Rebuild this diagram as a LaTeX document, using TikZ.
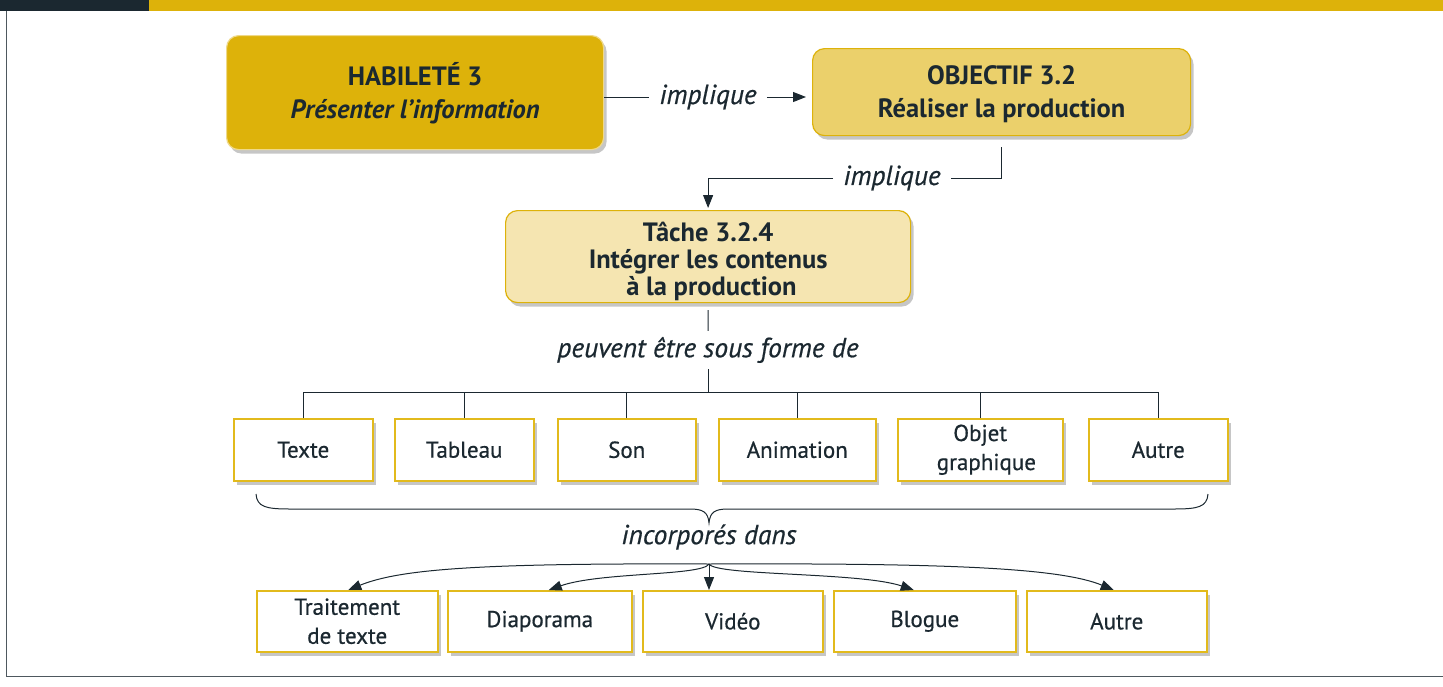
\documentclass[tikz,border=0pt]{standalone}
\usepackage{fontspec}
\setmainfont{PT Sans}
\newfontfamily\medfont{PT Sans}[FakeBold=0.6]
\usetikzlibrary{shadows,arrows.meta}

\definecolor{ink}{HTML}{1B2830}
\definecolor{golddark}{HTML}{DDB20A}
\definecolor{goldmid}{HTML}{EBD06B}
\definecolor{goldpale}{HTML}{F5E5B1}
\definecolor{goldline}{HTML}{E2BA1C}
\definecolor{framegray}{HTML}{4E585E}

\tikzset{
  boxshadow/.style={drop shadow={shadow xshift=3pt,shadow yshift=-4pt,fill=black!50,opacity=0.45}},
  headbox/.style={anchor=north west,inner sep=0,rounded corners=12pt,line width=1.2pt,
    align=center,text=ink,font=\bfseries\fontsize{26.5}{33}\selectfont,boxshadow},
  itembox/.style={anchor=north west,inner sep=0,draw=goldline,line width=1.5pt,fill=white,
    align=center,text=ink,font=\medfont\fontsize{23}{29}\selectfont,boxshadow},
  linklabel/.style={text=ink,inner xsep=10pt,inner ysep=6pt,font=\medfont\itshape\fontsize{27.5}{30}\selectfont},
  link/.style={draw=ink,line width=1pt},
  arr/.style={link,-{Triangle[length=13pt,width=10pt]}},
}

\begin{document}
\begin{tikzpicture}[x=1pt,y=-1pt]
  \useasboundingbox (0,0) rectangle (1443,686);
  % frame and top bar
  \fill[ink] (0,0) rectangle (149,11);
  \fill[golddark] (149,0) rectangle (1443,11);
  \draw[framegray,line width=1.6pt] (6.5,11) -- (6.5,676.5) -- (1443,676.5);

  % header boxes
  \node[headbox,fill=golddark,draw=goldmid!80!white,minimum width=377pt,minimum height=114pt] (hab) at (226,35)
    {\rule{0pt}{24pt}HABILETÉ 3\\\textit{Présenter l’information}};
  \node[headbox,fill=goldmid,draw=golddark,minimum width=378pt,minimum height=87pt] (obj) at (812,48)
    {\rule{0pt}{24pt}OBJECTIF 3.2\\Réaliser la production};
  \node[headbox,fill=goldpale,draw=golddark,minimum width=405pt,minimum height=92pt,
    font=\bfseries\fontsize{26.5}{27}\selectfont] (tache) at (505,210)
    {\rule{0pt}{30pt}Tâche 3.2.4\\Intégrer les contenus\\\ à la production};

  % labels
  \node[linklabel] (imp1) at (708,97) {implique};
  \node[linklabel] (imp2) at (892,178) {implique};
  \node[linklabel] (peuv) at (708,350) {peuvent être sous forme de};
  \node[linklabel,inner ysep=4pt] (incorp) at (709,537) {incorporés dans};
  \coordinate (bus) at (708,392);
  \coordinate (hub) at (709,564);

  % first row
  \node[itembox,minimum width=139pt,minimum height=62pt] (texte) at (233,418) {Texte};
  \node[itembox,minimum width=139pt,minimum height=62pt] (tabl) at (394,418) {Tableau};
  \node[itembox,minimum width=138pt,minimum height=62pt] (son) at (557,418) {Son};
  \node[itembox,minimum width=157pt,minimum height=62pt] (anim) at (718,418) {Animation};
  \node[itembox,minimum width=165pt,minimum height=62pt] (objg) at (897,418) {Objet\\\ \ graphique};
  \node[itembox,minimum width=139pt,minimum height=62pt] (autreA) at (1088,418) {Autre};

  % second row
  \node[itembox,minimum width=181pt,minimum height=61pt] (trait) at (256,590) {Traitement\\de texte};
  \node[itembox,minimum width=184pt,minimum height=61pt] (diapo) at (447,590) {Diaporama};
  \node[itembox,minimum width=180pt,minimum height=61pt] (video) at (642,590) {Vidéo};
  \node[itembox,minimum width=182pt,minimum height=61pt] (blog) at (833,590) {Blogue};
  \node[itembox,minimum width=180pt,minimum height=61pt] (autreB) at (1026,590) {Autre};

  % connectors
  \draw[link] (hab.east |- imp1) -- (imp1.west);
  \draw[arr,shorten >=6pt] (imp1.east) -- (obj.west |- imp1);
  \draw[link] ([yshift=-11pt]obj.south) |- (imp2.east);
  \draw[arr,shorten >=2pt] (imp2.west) -| (tache.north);
  \draw[link] ([yshift=-7pt]tache.south) -- (peuv.north);
  \draw[link] (peuv.south) -- (bus);
  \draw[link] (texte.north |- bus) -- (autreA.north |- bus);
  \foreach \b in {texte,tabl,son,anim,objg,autreA}
    \draw[link] (\b.north) -- (\b.north |- bus);

  % brace
  \draw[link] (256,494) .. controls (257,507) and (266,509) .. (290,509) -- (690,509)
    .. controls (703,509) and (708,512) .. (709,523)
    .. controls (710,512) and (715,509) .. (728,509) -- (1174,509)
    .. controls (1198,509) and (1207,507) .. (1208,494);

  % arrows to second row
  \draw[arr] (hub) .. controls (480,563) and (400,569) .. ([xshift=1pt]trait.north);
  \draw[arr] (hub) .. controls (702,576) and (600,572) .. ([xshift=9pt]diapo.north);
  \draw[arr] (hub) -- (hub |- video.north);
  \draw[arr] (hub) .. controls (716,576) and (860,572) .. ([xshift=-11pt]blog.north);
  \draw[arr] (hub) .. controls (950,563) and (1060,568) .. ([xshift=-3pt]autreB.north);
\end{tikzpicture}
\end{document}
